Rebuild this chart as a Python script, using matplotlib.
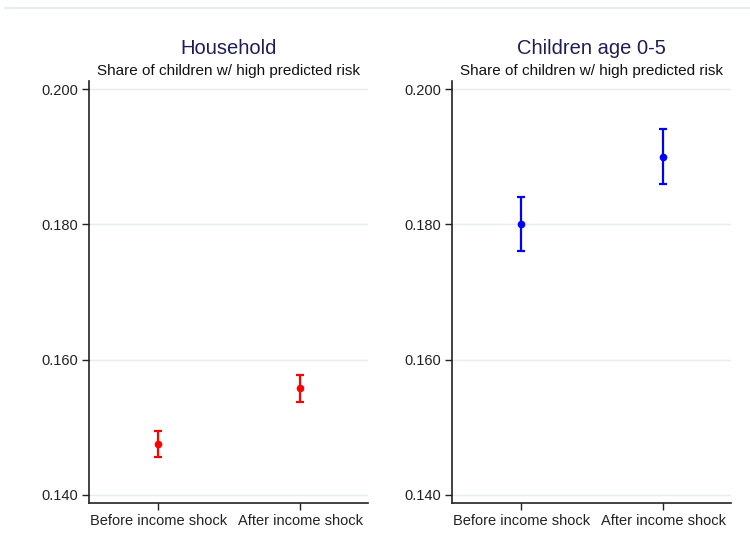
import matplotlib.pyplot as plt
import numpy as np

plt.rcParams["font.family"] = ["Liberation Sans", "DejaVu Sans"]

# data
periods = ["Before income shock", "After income shock"]
panel_titles = ["Household", "Children age 0-5"]
subtitle = "Share of children w/ high predicted risk"
household_mean = [0.1475, 0.1558]
household_lo = [0.1456, 0.1537]
household_hi = [0.1494, 0.1577]
children_mean = [0.1800, 0.1900]
children_lo = [0.1760, 0.1859]
children_hi = [0.1841, 0.1941]
yticks = [0.140, 0.160, 0.180, 0.200]

fig = plt.figure(figsize=(7.5, 5.49), dpi=100)

# thin rule along the top of the figure
fig.add_artist(plt.Line2D([0.007, 1.0], [0.985, 0.985], color="#e6edf0", lw=1.5))

panels = [
    (household_mean, household_lo, household_hi, "#ff0000"),
    (children_mean, children_lo, children_hi, "#0000ff"),
]
lefts = [89 / 750, 452 / 750]
width = 279 / 750
bottom = 1 - 503 / 549
height = (503 - 81) / 549

x = np.arange(1, len(periods) + 1)
for i, (mean, lo, hi, col) in enumerate(panels):
    ax = fig.add_axes([lefts[i], bottom, width, height])
    mean = np.array(mean)
    err = [mean - np.array(lo), np.array(hi) - mean]
    ax.errorbar(x, mean, yerr=err, fmt="o", color=col, ms=4.5, lw=1.6,
                capsize=3, capthick=1.6)
    ax.set_xlim(0.51, 2.48)
    ax.set_ylim(0.1388, 0.2012)
    ax.set_yticks(yticks)
    ax.set_yticklabels(["%.3f" % t for t in yticks])
    ax.set_xticks(x)
    ax.set_xticklabels(periods)
    ax.yaxis.grid(True, color="#e4eeee", lw=1)
    ax.set_axisbelow(True)
    for s in ["top", "right"]:
        ax.spines[s].set_visible(False)
    for s in ["left", "bottom"]:
        ax.spines[s].set_color("#222222")
        ax.spines[s].set_linewidth(1.2)
    ax.tick_params(axis="both", direction="out", length=5, width=1,
                   labelsize=10.5, colors="#222222", pad=3)
    ax.text(0.5, 1.064, panel_titles[i], transform=ax.transAxes,
            ha="center", va="baseline", fontsize=14.5, color="#1e1e55")
    ax.text(0.5, 1.015, subtitle, transform=ax.transAxes,
            ha="center", va="baseline", fontsize=11, color="#111111")

plt.savefig("out.png", dpi=100)
